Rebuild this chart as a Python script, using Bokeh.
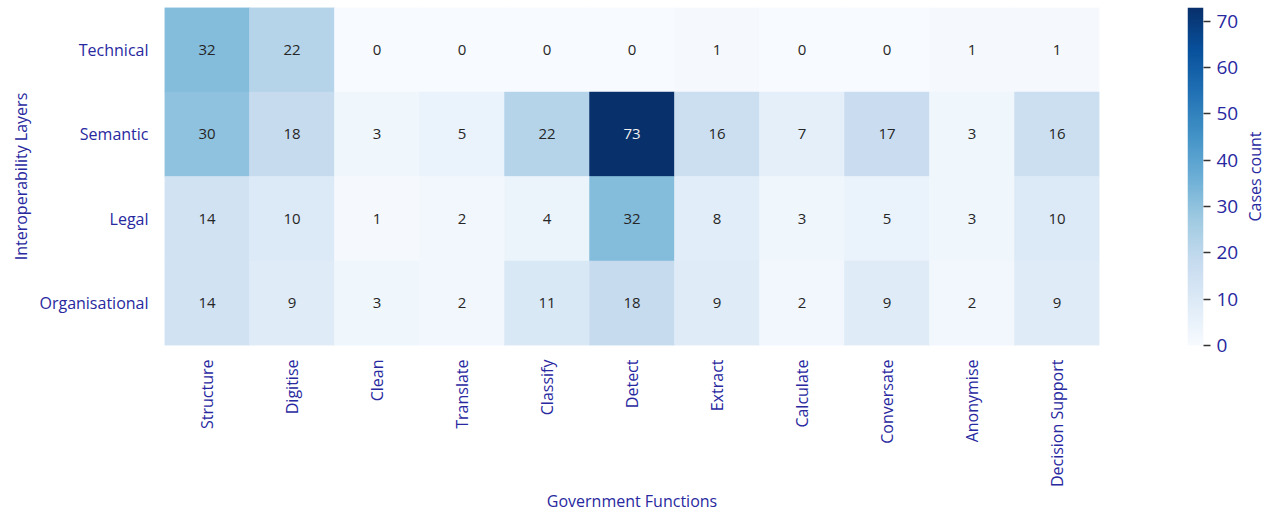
import math
import numpy as np
from bokeh.plotting import figure
from bokeh.layouts import row
from bokeh.models import (ColumnDataSource, LinearColorMapper, Range1d,
                          SingleIntervalTicker, FixedTicker)
from bokeh.palettes import Blues256
from bokeh.transform import transform
from bokeh.core.properties import value
from bokeh.embed import file_html
from bokeh.resources import INLINE

functions = ["Structure", "Digitise", "Clean", "Translate", "Classify", "Detect",
             "Extract", "Calculate", "Conversate", "Anonymise", "Decision Support"]
layers = ["Technical", "Semantic", "Legal", "Organisational"]

technical = [32, 22, 0, 0, 0, 0, 1, 0, 0, 1, 1]
semantic = [30, 18, 3, 5, 22, 73, 16, 7, 17, 3, 16]
legal = [14, 10, 1, 2, 4, 32, 8, 3, 5, 3, 10]
organisational = [14, 9, 3, 2, 11, 18, 9, 2, 9, 2, 9]

rows = {"Technical": technical, "Semantic": semantic, "Legal": legal,
        "Organisational": organisational}

xs, ys, vals, labels, tcolors = [], [], [], [], []
vmax = max(max(r) for r in rows.values())
for layer in layers:
    for f, v in zip(functions, rows[layer]):
        xs.append(f)
        ys.append(layer)
        vals.append(v)
        labels.append(str(v))
        tcolors.append("#f0f0f0" if v > 0.7 * vmax else "#262626")

src = ColumnDataSource(dict(x=xs, y=ys, v=vals, label=labels, tc=tcolors))

AXIS_COLOR = "#2828a0"
FONT = "Open Sans"
H = 515
TOP = 7
BOTTOM = 169

mapper = LinearColorMapper(palette=list(reversed(Blues256)), low=0, high=vmax)

# ---- main heatmap ----
p = figure(width=1110, height=H, x_range=functions, y_range=list(reversed(layers)),
           output_backend="svg", toolbar_location=None,
           min_border_left=164, min_border_top=TOP, min_border_bottom=BOTTOM,
           min_border_right=11)
p.outline_line_color = None
p.grid.grid_line_color = None

p.rect(x="x", y="y", width=1, height=1, source=src,
       fill_color=transform("v", mapper), line_color=transform("v", mapper),
       line_width=0.5)
p.text(x="x", y="y", text="label", source=src, text_color="tc",
       text_align="center", text_baseline="middle",
       text_font=value(FONT), text_font_size="15px")

for ax in (p.xaxis[0], p.yaxis[0]):
    ax.axis_line_color = None
    ax.major_tick_line_color = None
    ax.minor_tick_line_color = None
    ax.major_label_text_color = AXIS_COLOR
    ax.major_label_text_font = FONT
    ax.major_label_text_font_size = "16px"
    ax.axis_label_text_color = AXIS_COLOR
    ax.axis_label_text_font = FONT
    ax.axis_label_text_font_size = "16px"
    ax.axis_label_text_font_style = "normal"

p.xaxis.axis_label = "Government Functions"
p.yaxis.axis_label = "Interoperability Layers"
p.xaxis.major_label_orientation = math.pi / 2
p.xaxis.major_label_standoff = 8
p.yaxis.major_label_standoff = 10
p.xaxis.axis_label_standoff = 0
p.yaxis.axis_label_standoff = 4

# ---- colour bar as its own small figure ----
cb_vals = np.linspace(0, vmax, 256).reshape(-1, 1)
cb = figure(width=135, height=H, x_range=Range1d(0, 1), y_range=Range1d(0, vmax),
            output_backend="svg", toolbar_location=None, y_axis_location="right",
            min_border_left=77, min_border_right=42, min_border_top=TOP,
            min_border_bottom=BOTTOM)
cb.outline_line_color = None
cb.grid.grid_line_color = None
cb.xaxis.visible = False
cb.image(image=[cb_vals], x=0, y=0, dw=1, dh=vmax, color_mapper=mapper)
cax = cb.yaxis[0]
cax.ticker = SingleIntervalTicker(interval=10)
cax.axis_line_color = None
cax.minor_tick_line_color = None
cax.major_tick_in = 0
cax.major_tick_out = 7
cax.major_tick_line_color = "#333333"
cax.major_tick_line_width = 1.5
cax.major_label_standoff = 6
cax.major_label_text_color = AXIS_COLOR
cax.major_label_text_font = FONT
cax.major_label_text_font_size = "19px"

# ---- colour bar title as a left axis label of a slim figure ----
lf = figure(width=20, height=H, x_range=Range1d(0, 1), y_range=Range1d(0, vmax),
            output_backend="svg", toolbar_location=None,
            min_border_left=19, min_border_right=0, min_border_top=TOP,
            min_border_bottom=BOTTOM)
lf.outline_line_color = None
lf.grid.grid_line_color = None
lf.xaxis.visible = False
lax = lf.yaxis[0]
lax.ticker = FixedTicker(ticks=[])
lax.axis_line_color = None
lax.major_tick_line_color = None
lax.minor_tick_line_color = None
lax.major_label_standoff = 0
lax.axis_label = "Cases count"
lax.axis_label_standoff = 0
lax.axis_label_text_color = AXIS_COLOR
lax.axis_label_text_font = FONT
lax.axis_label_text_font_size = "16px"
lax.axis_label_text_font_style = "normal"

layout = row(p, cb, lf, spacing=0)
open("out.html", "w").write(file_html(layout, INLINE))
